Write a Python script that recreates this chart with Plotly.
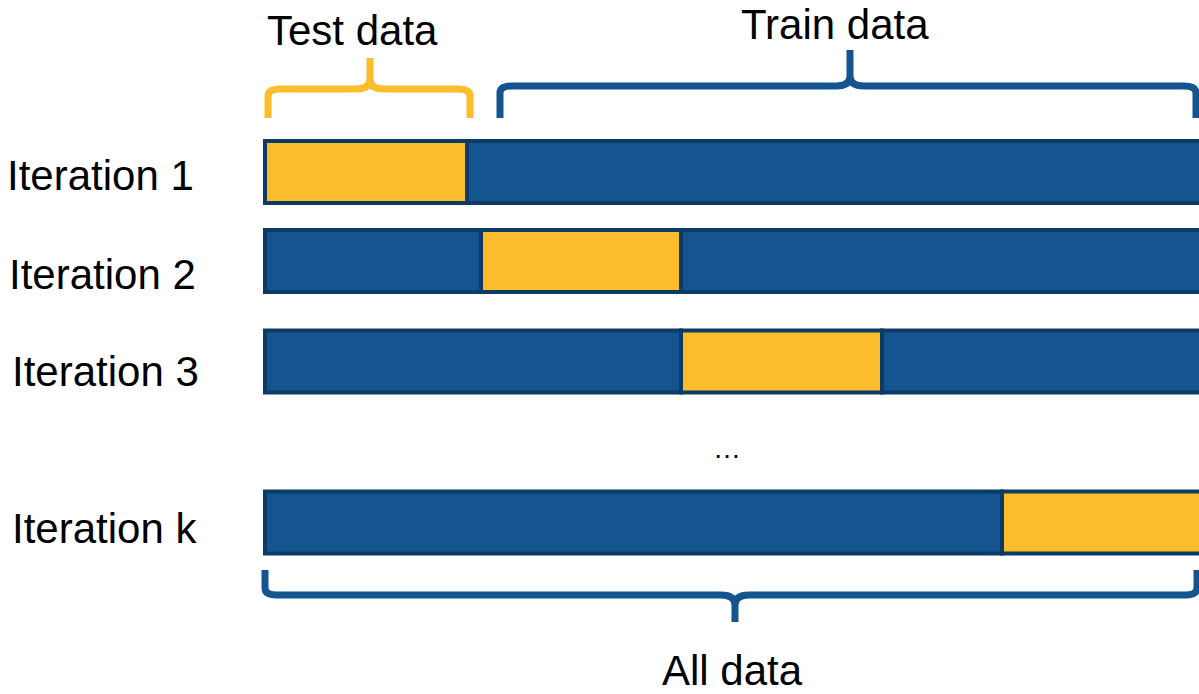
import plotly.graph_objects as go

# ---- data ----
rows = ["Iteration 1", "Iteration 2", "Iteration 3", "Iteration k"]
row_center = [172, 261, 361.5, 522.5]          # vertical position of each iteration bar
test_start = [0.0, 21.6, 41.6, 73.7]            # % of the data where the test fold begins
test_end = [20.2, 41.6, 61.7, 94.0]             # % of the data where the test fold ends
data_end = 94.0                                  # right end of the full dataset (cut at frame)
label_x = [-16.5, -16.3, -16.0, -16.1]
label_y = [175, 274, 371, 528]

BLUE = "#15558F"
DARK = "#0E3A66"
YELLOW = "#FBBD2B"
FONT = "Liberation Sans, Arial"

fig = go.Figure()

for i, r in enumerate(rows):
    segs = [(0.0, test_start[i], BLUE), (test_start[i], test_end[i], YELLOW), (test_end[i], data_end, BLUE)]
    for s, e, c in segs:
        if e - s <= 0:
            continue
        fig.add_trace(go.Bar(
            orientation="h", y=[row_center[i]], x=[e - s], base=[s], width=62,
            marker=dict(color=c, line=dict(color=DARK, width=4)),
            showlegend=False, hoverinfo="skip"))
    fig.add_annotation(x=label_x[i], y=label_y[i], text=r, showarrow=False,
                       font=dict(size=42, color="black", family=FONT),
                       xanchor="center", yanchor="middle")


def brace(x0, x1, xm, y_leg, y_bar, y_tip, r=7):
    d = 1 if y_tip < y_bar else -1
    sgn = 1 if y_bar < y_leg else -1
    p = f"M{x0},{y_leg} L{x0},{y_bar + sgn*r} Q{x0},{y_bar} {x0+1.2},{y_bar} "
    p += f"L{xm-1.4},{y_bar} Q{xm},{y_bar} {xm},{y_bar - d*10} L{xm},{y_tip} "
    p += f"M{xm},{y_bar - d*10} Q{xm},{y_bar} {xm+1.4},{y_bar} "
    p += f"L{x1-1.2},{y_bar} Q{x1},{y_bar} {x1},{y_bar + sgn*r} L{x1},{y_leg}"
    return p

fig.add_shape(type="path", xref="x", yref="y",
              path=brace(0.3, 20.5, 10.5, 118, 89, 58), line=dict(color=YELLOW, width=7))
fig.add_shape(type="path", xref="x", yref="y",
              path=brace(23.5, 93.1, 58.5, 118, 86, 50), line=dict(color=BLUE, width=7))
fig.add_shape(type="path", xref="x", yref="y",
              path=brace(0.0, 93.2, 47.0, 570, 595, 622), line=dict(color=BLUE, width=7))

fig.add_annotation(x=8.7, y=30, text="Test data", showarrow=False,
                   font=dict(size=42, color="black", family=FONT))
fig.add_annotation(x=57.0, y=24, text="Train data", showarrow=False,
                   font=dict(size=42, color="black", family=FONT))
fig.add_annotation(x=46.7, y=670, text="All data", showarrow=False,
                   font=dict(size=42, color="black", family=FONT))
fig.add_annotation(x=46.2, y=448, text="…", showarrow=False,
                   font=dict(size=28, color="black", family=FONT))

fig.update_layout(
    width=1199, height=694, margin=dict(l=0, r=0, t=0, b=0),
    plot_bgcolor="white", paper_bgcolor="white", barmode="overlay",
    xaxis=dict(range=[-26.5, 93.4], visible=False, fixedrange=True),
    yaxis=dict(range=[694, 0], visible=False, fixedrange=True),
)
fig.write_html("out.html", config={"displayModeBar": False},
               post_script="document.body.style.margin='0';document.body.style.overflow='hidden';")
